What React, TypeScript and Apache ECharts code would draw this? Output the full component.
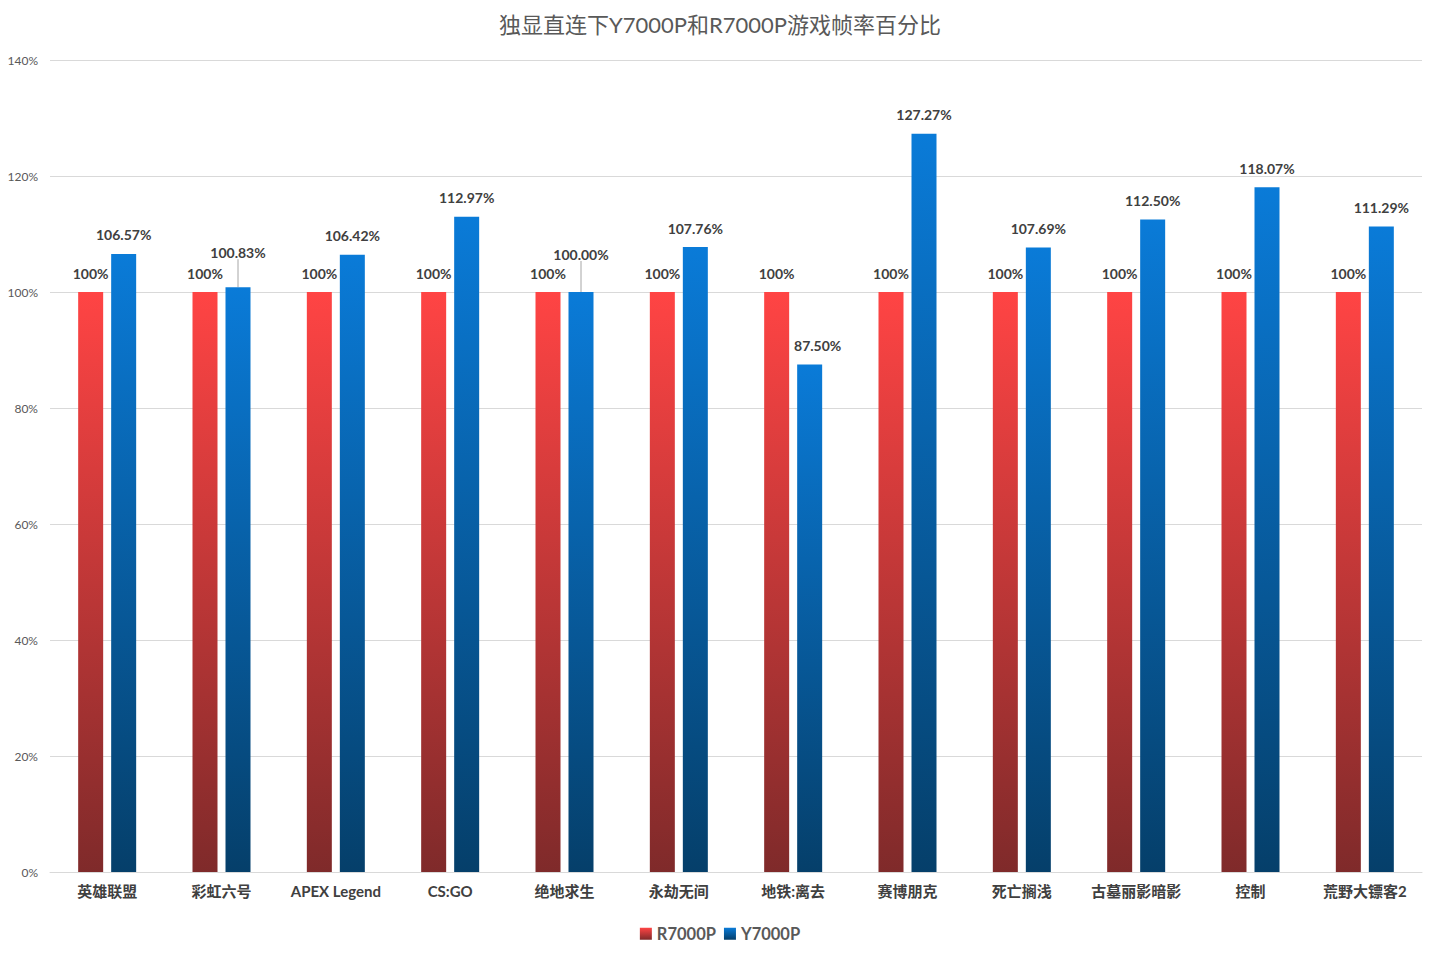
import React, { useEffect, useRef } from "react";
import * as echarts from "echarts";

const titleText = "独显直连下Y7000P和R7000P游戏帧率百分比";
const categories = ["英雄联盟", "彩虹六号", "APEX Legend", "CS:GO", "绝地求生", "永劫无间", "地铁:离去", "赛博朋克", "死亡搁浅", "古墓丽影暗影", "控制", "荒野大镖客2"];
const r7000pValues = [100, 100, 100, 100, 100, 100, 100, 100, 100, 100, 100, 100];
const y7000pValues = [106.57, 100.83, 106.42, 112.97, 100.0, 107.76, 87.5, 127.27, 107.69, 112.5, 118.07, 111.29];
const liftedLabels = [1, 4];

const FONT = "Lato, 'Noto Sans CJK SC', sans-serif";

export default function App() {
  const ref = useRef<HTMLDivElement>(null);
  useEffect(() => {
    if (!ref.current) return;
    const chart = echarts.init(ref.current, undefined, { renderer: "svg" });
    const redGrad = new echarts.graphic.LinearGradient(0, 0, 0, 1, [
      { offset: 0, color: "#FF4444" },
      { offset: 1, color: "#7F2A2A" },
    ]);
    const blueGrad = new echarts.graphic.LinearGradient(0, 0, 0, 1, [
      { offset: 0, color: "#0A7BD8" },
      { offset: 1, color: "#053F6A" },
    ]);
    const blueData = y7000pValues.map((v, i) =>
      liftedLabels.indexOf(i) >= 0
        ? { value: v, labelLine: { show: true, lineStyle: { color: "#A6A6A6", width: 1 } } }
        : { value: v }
    );
    chart.setOption({
      animation: false,
      textStyle: { fontFamily: FONT },
      title: {
        text: titleText,
        left: "center",
        top: 8,
        textStyle: { fontSize: 22, fontWeight: "normal", color: "#595959", fontFamily: FONT },
      },
      legend: {
        bottom: 9,
        left: "center",
        icon: "rect",
        itemWidth: 12,
        itemHeight: 12,
        itemGap: 8,
        textStyle: { fontSize: 16.5, fontWeight: "bold", color: "#595959", fontFamily: FONT },
        data: ["R7000P", "Y7000P"],
      },
      grid: { left: 50, right: 18, top: 60, bottom: 84, containLabel: false },
      xAxis: {
        type: "category",
        data: categories,
        axisLine: { lineStyle: { color: "#D9D9D9" } },
        axisTick: { show: false },
        axisLabel: { fontSize: 15, fontWeight: "bold", color: "#404040", margin: 11, fontFamily: FONT, interval: 0 },
      },
      yAxis: {
        type: "value",
        min: 0,
        max: 140,
        interval: 20,
        axisLabel: { formatter: "{value}%", fontSize: 12, color: "#595959", margin: 12, fontFamily: FONT },
        splitLine: { lineStyle: { color: "#D9D9D9" } },
        axisLine: { show: false },
        axisTick: { show: false },
      },
      series: [
        {
          name: "R7000P",
          type: "bar",
          data: r7000pValues,
          barWidth: 25,
          barGap: "32%",
          itemStyle: { color: redGrad },
          label: {
            show: true,
            position: "top",
            distance: 12,
            formatter: (p: any) => `${p.value}%`,
            fontSize: 14,
            fontWeight: "bold",
            color: "#404040",
            fontFamily: FONT,
          },
        },
        {
          name: "Y7000P",
          type: "bar",
          data: blueData,
          barWidth: 25,
          itemStyle: { color: blueGrad },
          label: {
            show: true,
            position: "top",
            distance: 12,
            formatter: (p: any) => `${Number(p.value).toFixed(2)}%`,
            fontSize: 14,
            fontWeight: "bold",
            color: "#404040",
            fontFamily: FONT,
          },
          labelLine: { show: false },
          labelLayout: (params: any) => {
            if (params.dataIndex === 1) return { dy: -16 };
            if (params.dataIndex === 4) return { dy: -19 };
            if (params.dataIndex === 6) return { dx: 8 };
            return {};
          },
        },
      ],
    });
    return () => chart.dispose();
  }, []);
  return (
    <div
      ref={ref}
      style={{ position: "fixed", left: 0, top: 0, width: 1440, height: 956, background: "#fff" }}
    />
  );
}
